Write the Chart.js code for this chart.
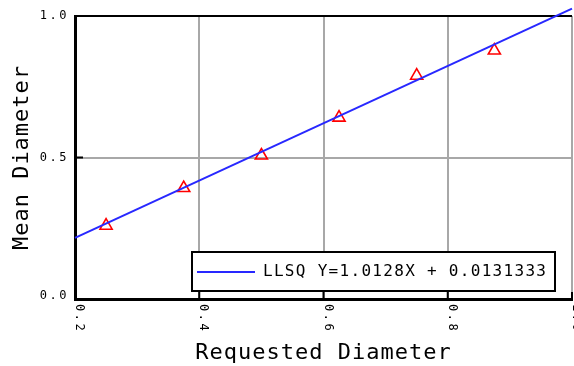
<!DOCTYPE html>
<html>
<head>
<meta charset="utf-8">
<script src="https://cdn.jsdelivr.net/npm/chart.js@4.4.0/dist/chart.umd.min.js"></script>
<style>
  html, body { margin: 0; padding: 0; background: #fff; }
</style>
</head>
<body>
<canvas id="fitChart" width="574" height="366"></canvas>
<script>
// requested vs. measured diameters
const requested = [0.25, 0.375, 0.5, 0.625, 0.75, 0.875];
const measured = [0.259, 0.392, 0.507, 0.641, 0.789, 0.878];

// least squares fit, as printed in the legend
const fitSlope = 1.0128;
const fitIntercept = 0.0131333;
const fitRange = [0.2, 1.0];

const xTicks = [0.2, 0.4, 0.6, 0.8, 1.0];
const yTicks = [0.0, 0.5, 1.0];

const fitLabel = 'LLSQ Y=' + fitSlope + 'X + ' + fitIntercept;
const MONO = '"DejaVu Sans Mono", monospace';
const GRID = '#a8a8a8';

// tick labels, tick marks and the boxed legend are drawn by hand
const plotDecor = {
  id: 'plotDecor',
  beforeDraw(chart) {
    chart.ctx.letterSpacing = '1px';
  },
  afterDraw(chart) {
    const { ctx, chartArea: a, scales: { x, y } } = chart;
    ctx.save();
    ctx.letterSpacing = '0px';

    // short black ticks inside the frame
    ctx.strokeStyle = '#000';
    ctx.lineWidth = 2;
    ctx.beginPath();
    xTicks.forEach(v => {
      const px = x.getPixelForValue(v);
      ctx.moveTo(px, a.bottom);
      ctx.lineTo(px, a.bottom - 7);
    });
    yTicks.forEach(v => {
      const py = y.getPixelForValue(v);
      ctx.moveTo(a.left, py);
      ctx.lineTo(a.left + 8, py);
    });
    ctx.stroke();

    ctx.fillStyle = '#000';
    ctx.font = '12px ' + MONO;
    ctx.letterSpacing = '2.5px';

    // y tick labels
    ctx.textAlign = 'right';
    ctx.textBaseline = 'middle';
    yTicks.forEach(v => {
      ctx.fillText(v.toFixed(1), a.left - 6, Math.min(y.getPixelForValue(v), a.bottom - 3));
    });

    // x tick labels, turned to read downwards
    ctx.textAlign = 'left';
    ctx.textBaseline = 'alphabetic';
    xTicks.forEach(v => {
      ctx.save();
      ctx.translate(x.getPixelForValue(v) + 1, a.bottom + 5);
      ctx.rotate(Math.PI / 2);
      ctx.fillText(v.toFixed(1), 0, 0);
      ctx.restore();
    });

    // legend box
    const fit = chart.data.datasets[0];
    const bx = 192, by = 252, bw = 363, bh = 39;
    ctx.fillStyle = '#fff';
    ctx.fillRect(bx, by, bw, bh);
    ctx.strokeStyle = '#000';
    ctx.lineWidth = 2;
    ctx.strokeRect(bx, by, bw, bh);
    ctx.strokeStyle = fit.borderColor;
    ctx.lineWidth = 2;
    ctx.beginPath();
    ctx.moveTo(bx + 5, by + 20);
    ctx.lineTo(bx + 63, by + 20);
    ctx.stroke();
    ctx.fillStyle = '#000';
    ctx.font = '16px ' + MONO;
    ctx.letterSpacing = '1.3px';
    ctx.textAlign = 'left';
    ctx.textBaseline = 'middle';
    ctx.fillText(fit.label, bx + 71, by + 20);

    ctx.restore();
  }
};

new Chart(document.getElementById('fitChart'), {
  type: 'scatter',
  data: {
    datasets: [{
      label: fitLabel,
      data: fitRange.map(v => ({ x: v, y: fitSlope * v + fitIntercept })),
      showLine: true,
      borderColor: '#2828ff',
      borderWidth: 2,
      pointRadius: 0,
      clip: false
    }, {
      label: 'Mean Diameter',
      data: requested.map((v, i) => ({ x: v, y: measured[i] })),
      pointStyle: 'triangle',
      pointRadius: 7,
      borderColor: '#ff0000',
      backgroundColor: 'rgba(0,0,0,0)',
      borderWidth: 1.6
    }]
  },
  options: {
    responsive: false,
    devicePixelRatio: 1,
    animation: false,
    layout: {
      autoPadding: false,
      padding: { top: 16, right: 2, left: 0, bottom: 0 }
    },
    plugins: {
      legend: { display: false },
      tooltip: { enabled: false }
    },
    scales: {
      x: {
        type: 'linear',
        min: 0.2,
        max: 1.0,
        ticks: { display: false, stepSize: 0.2 },
        grid: { color: GRID, lineWidth: 2, drawTicks: false },
        border: { color: '#000', width: 3 },
        title: {
          display: true,
          text: 'Requested Diameter',
          color: '#000',
          font: { family: MONO, size: 22 },
          padding: { top: 0, bottom: 0 }
        },
        afterFit(scale) { scale.height = 67; }
      },
      y: {
        min: 0,
        max: 1,
        ticks: { display: false, stepSize: 0.5 },
        grid: {
          color: c => (c.tick && c.tick.value === 1 ? '#000' : GRID),
          lineWidth: 2,
          drawTicks: false
        },
        border: { color: '#000', width: 3 },
        title: {
          display: true,
          text: 'Mean Diameter',
          color: '#000',
          font: { family: MONO, size: 22 },
          padding: { top: 9, bottom: 0 }
        },
        afterFit(scale) { scale.width = 75; }
      }
    }
  },
  plugins: [plotDecor]
});
</script>
</body>
</html>
